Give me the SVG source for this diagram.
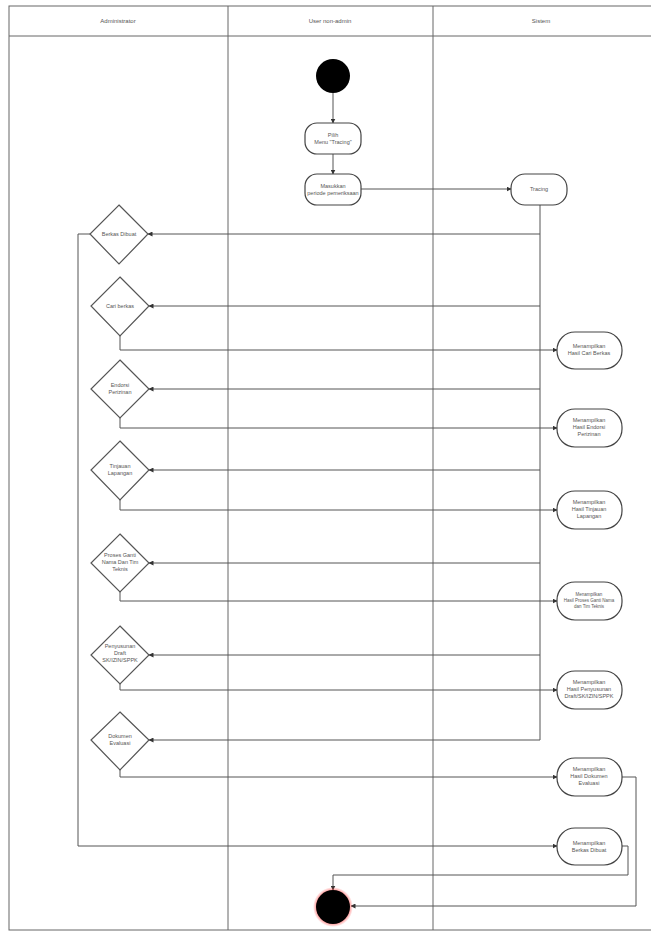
<svg xmlns="http://www.w3.org/2000/svg" width="651" height="932" viewBox="0 0 651 932">
<defs>
<marker id="ah" viewBox="0 0 10 10" refX="9" refY="5" markerWidth="5" markerHeight="5" orient="auto"><path d="M0,0 L10,5 L0,10 z" fill="#333"/></marker>
<radialGradient id="glow"><stop offset="0.8" stop-color="#f33" stop-opacity="0.6"/><stop offset="1" stop-color="#f33" stop-opacity="0"/></radialGradient>
</defs>
<style>
.lane{fill:none;stroke:#666;stroke-width:1}
.hd{font-family:"Liberation Sans",Arial,sans-serif;font-size:6px;fill:#555;text-anchor:middle}
.act{fill:#fff;stroke:#444;stroke-width:1.2}
.dec{fill:#fff;stroke:#555;stroke-width:1.2}
.t{font-family:"Liberation Sans",Arial,sans-serif;font-size:5.5px;fill:#555;text-anchor:middle}
.ts{font-family:"Liberation Sans",Arial,sans-serif;font-size:4.5px;fill:#555;text-anchor:middle}
.c{fill:none;stroke:#555;stroke-width:1;marker-end:url(#ah)}
.cn{fill:none;stroke:#555;stroke-width:1}
</style>
<rect width="651" height="932" fill="#fff"/>
<g id="lanes">
<rect class="lane" x="9" y="6" width="645" height="924"/>
<line class="lane" x1="9" y1="36" x2="651" y2="36"/>
<line class="lane" x1="228" y1="6" x2="228" y2="930"/>
<line class="lane" x1="433" y1="6" x2="433" y2="930"/>
<text class="hd" x="118" y="23">Administrator</text>
<text class="hd" x="330" y="23">User non-admin</text>
<text class="hd" x="541" y="23">Sistem</text>
</g>
<g id="connectors">
<path class="c" d="M333,93 V123"/>
<path class="c" d="M333,154 V174"/>
<path class="c" d="M361,189 H511"/>
<path class="cn" d="M540,205 V740"/>
<path class="c" d="M540,234 H148"/>
<path class="c" d="M540,306 H149"/>
<path class="c" d="M540,389 H149"/>
<path class="c" d="M540,470 H149"/>
<path class="c" d="M540,563 H149"/>
<path class="c" d="M540,655 H149"/>
<path class="c" d="M540,740 H149"/>
<path class="c" d="M120,336 V350 H557"/>
<path class="c" d="M120,418 V428 H557"/>
<path class="c" d="M120,500 V510 H557"/>
<path class="c" d="M120,592 V601 H557"/>
<path class="c" d="M120,684 V690 H557"/>
<path class="c" d="M120,770 V777 H557"/>
<path class="c" d="M90,234 H78 V846 H557"/>
<path class="c" d="M622,846 H628 V875 H333 V890"/>
<path class="c" d="M622,777 H636 V906 H351"/>
</g>
<g id="start"><circle cx="333" cy="76" r="17" fill="#000"/></g>
<g id="pilih-menu"><rect class="act" x="305" y="123" width="56" height="31" rx="12"/><text class="t" x="333" y="137">Pilih</text><text class="t" x="333" y="144">Menu "Tracing"</text></g>
<g id="masukkan"><rect class="act" x="305" y="174" width="56" height="31" rx="12"/><text class="t" x="333" y="188">Masukkan</text><text class="t" x="333" y="195">periode pemeriksaan</text></g>
<g id="tracing"><rect class="act" x="511" y="174" width="56" height="31" rx="14"/><text class="t" x="539" y="191">Tracing</text></g>
<g id="d-berkas-dibuat"><polygon class="dec" points="119,205 148,234 119,264 90,234"/><text class="t" x="119" y="236">Berkas Dibuat</text></g>
<g id="d-cari-berkas"><polygon class="dec" points="120,277 149,306 120,336 91,306"/><text class="t" x="120" y="308">Cari berkas</text></g>
<g id="d-endorsi"><polygon class="dec" points="120,360 149,389 120,418 91,389"/><text class="t" x="120" y="387">Endorsi</text><text class="t" x="120" y="394">Perizinan</text></g>
<g id="d-tinjauan"><polygon class="dec" points="120,441 149,470 120,500 91,470"/><text class="t" x="120" y="468">Tinjauan</text><text class="t" x="120" y="475">Lapangan</text></g>
<g id="d-proses"><polygon class="dec" points="120,534 149,563 120,592 91,563"/><text class="t" x="120" y="557">Proses Ganti</text><text class="t" x="120" y="564">Nama Dan Tim</text><text class="t" x="120" y="571">Teknis</text></g>
<g id="d-penyusunan"><polygon class="dec" points="120,626 149,655 120,684 91,655"/><text class="t" x="120" y="648">Penyusunan</text><text class="t" x="120" y="655">Draft</text><text class="t" x="120" y="662">SK/IZIN/SPPK</text></g>
<g id="d-dokumen"><polygon class="dec" points="120,712 149,740 120,770 91,740"/><text class="t" x="120" y="738">Dokumen</text><text class="t" x="120" y="745">Evaluasi</text></g>
<g id="r-cari"><rect class="act" x="557" y="332" width="65" height="37" rx="18"/><text class="t" x="589" y="348">Menampilkan</text><text class="t" x="589" y="355">Hasil Cari Berkas</text></g>
<g id="r-endorsi"><rect class="act" x="557" y="409" width="65" height="38" rx="18"/><text class="t" x="589" y="422">Menampilkan</text><text class="t" x="589" y="429">Hasil Endorsi</text><text class="t" x="589" y="436">Perizinan</text></g>
<g id="r-tinjauan"><rect class="act" x="557" y="491" width="65" height="38" rx="18"/><text class="t" x="589" y="504">Menampilkan</text><text class="t" x="589" y="511">Hasil Tinjauan</text><text class="t" x="589" y="518">Lapangan</text></g>
<g id="r-proses"><rect class="act" x="557" y="582" width="65" height="38" rx="18"/><text class="ts" x="589" y="596">Menampilkan</text><text class="ts" x="589" y="602">Hasil Proses Ganti Nama</text><text class="ts" x="589" y="608">dan Tim Teknis</text></g>
<g id="r-penyusunan"><rect class="act" x="557" y="671" width="65" height="38" rx="18"/><text class="t" x="589" y="684">Menampilkan</text><text class="t" x="589" y="691">Hasil Penyusunan</text><text class="t" x="589" y="698">Draft/SK/IZIN/SPPK</text></g>
<g id="r-dokumen"><rect class="act" x="557" y="758" width="65" height="38" rx="18"/><text class="t" x="589" y="771">Menampilkan</text><text class="t" x="589" y="778">Hasil Dokumen</text><text class="t" x="589" y="785">Evaluasi</text></g>
<g id="r-berkas"><rect class="act" x="557" y="828" width="65" height="37" rx="18"/><text class="t" x="589" y="845">Menampilkan</text><text class="t" x="589" y="852">Berkas Dibuat</text></g>
<g id="end"><circle cx="333" cy="907" r="20" fill="url(#glow)"/><circle cx="333" cy="907" r="17" fill="#000"/></g>
</svg>
